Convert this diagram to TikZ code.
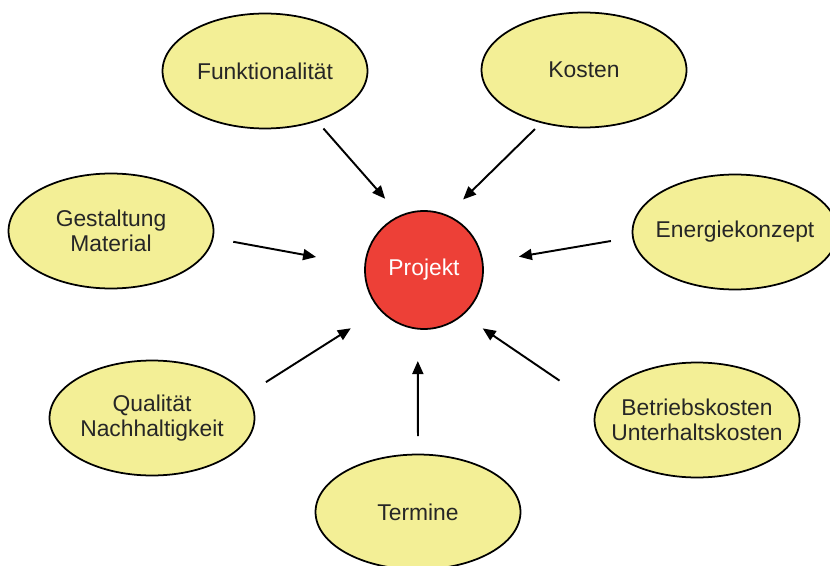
\documentclass[tikz,border=0pt]{standalone}
\usepackage{fontspec}
\setmainfont{Liberation Sans}
\usepackage{xcolor}
\usetikzlibrary{shapes.geometric,arrows.meta}

\definecolor{feldgelb}{RGB}{243,239,150}
\definecolor{projektrot}{RGB}{237,64,55}

\begin{document}
\begin{tikzpicture}[x=0.02cm,y=0.02cm,
		feld/.style={ellipse,draw,line width=1pt,fill=feldgelb,minimum width=4.1cm,minimum height=2.3cm,inner xsep=-0.3cm,inner ysep=0pt,align=center,text=black!85,font=\fontsize{13}{14.2}\selectfont},
		kern/.style={circle,draw,line width=1pt,fill=projektrot,minimum size=2.36cm,inner sep=0pt,text=white,font=\fontsize{13}{14.2}\selectfont},
		pfeil/.style={-{Triangle[length=0.26cm,width=0.22cm]},line width=1.1pt}]
	\useasboundingbox (0,0) rectangle (830,565);
	% Projekt in der Mitte
	\node[kern] (projekt) at (424,295) {Projekt};
	% Einflussgroessen rundherum
	\node[feld] (funktion) at (265,494) {Funktionalität};
	\node[feld] (kosten) at (584,495) {Kosten};
	\node[feld] (gestaltung) at (111,334) {Gestaltung\\Material};
	\node[feld] (energie) at (735,333) {Energiekonzept};
	\node[feld] (qualitaet) at (152,147) {Qualität\\Nachhaltigkeit};
	\node[feld] (betrieb) at (697,145) {Betriebskosten\\Unterhaltskosten};
	\node[feld] (termine) at (418,53) {Termine};
	% Pfeile zum Projekt
	\draw[pfeil,shorten <=0.19cm,shorten >=0.44cm] (funktion.-44.5) -- (projekt.114.7);
	\draw[pfeil,shorten <=0.17cm,shorten >=0.44cm] (kosten.-129.5) -- (projekt.67.8);
	\draw[pfeil,shorten <=0.40cm,shorten >=0.98cm] (gestaltung.-4.8) -- (projekt.176.6);
	\draw[pfeil,shorten <=0.43cm,shorten >=0.72cm] (energie.183.7) -- (projekt.7.1);
	\draw[pfeil,shorten <=0.46cm,shorten >=0.68cm] (qualitaet.14.3) -- (projekt.222.9);
	\draw[pfeil,shorten <=0.90cm,shorten >=0.47cm] (betrieb.172.9) -- (projekt.-49.1);
	\draw[pfeil,shorten <=0.35cm,shorten >=0.63cm] (termine.north) -- (projekt.-96.8);
\end{tikzpicture}
\end{document}
